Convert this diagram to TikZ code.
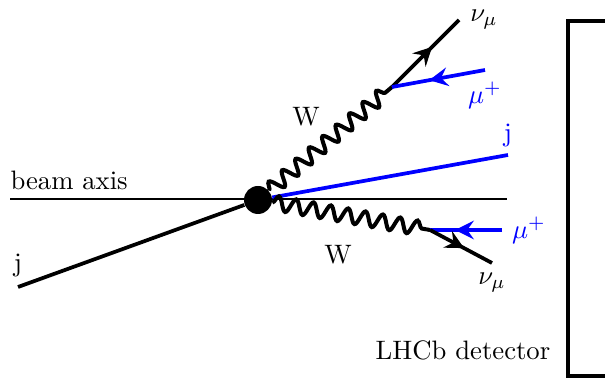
\documentclass[tikz,border=0pt]{standalone}
\usepackage{amsmath}
\usepackage{amssymb}
\usetikzlibrary{arrows.meta,decorations.pathmorphing,decorations.markings}

\begin{document}
\begin{tikzpicture}[x=0.375pt, y=-0.375pt, every node/.style={font=\normalsize}]
  \tikzstyle{fermion} = [line width=1.4pt, postaction={decorate},
                         decoration={markings, mark=at position #1 with {\arrow{Stealth[length=7pt,width=7pt,inset=2.5pt]}}}]
  \tikzstyle{boson} = [line width=1.5pt, decorate, decoration={snake, amplitude=2.7pt, segment length=6.6pt}]
  \tikzstyle{jet} = [line width=1.4pt]
  \tikzstyle{lbl} = [inner sep=0pt, font=\normalsize]
  \useasboundingbox (0,0) rectangle (605,379);
  \clip (0,0) rectangle (605,379);
  % beam axis
  \coordinate (ax1) at (10,199);
  \coordinate (ax2) at (507,199);
  \draw [line width=0.5pt] (ax1) -- (ax2);
  \node [anchor=base west, inner sep=0pt] (axis) at (10,190) {beam axis};
  % vertex and end points
  \node (v) [circle, fill=black, inner sep=0pt, minimum size=10.5pt] at (258,200) {};
  \coordinate (jl) at (18,287);
  \coordinate (jr) at (508,155);
  \coordinate (w1) at (392,87);
  \coordinate (w2) at (430,230);
  \coordinate (nu1) at (459,20);
  \coordinate (mu1) at (485,70);
  \coordinate (nu2) at (492,263);
  \coordinate (mu2) at (502,230);
  % jets
  \draw [jet] (v) -- (jl);
  \draw [jet, blue] (v) -- (jr);
  % W bosons
  \draw [boson] (v) -- (w1);
  \draw [boson] (v) -- (w2);
  % leptons
  \draw [fermion=0.6] (w1) -- (nu1);
  \draw [fermion=0.6, blue] (mu1) -- (w1);
  \draw [fermion=0.65, blue] (mu2) -- (w2);
  \draw [fermion=0.55] (w2) -- (nu2);
  % labels
  \node [anchor=base, inner sep=0pt] (jlab) at (18,272) {j};
  \node [anchor=base, inner sep=0pt, blue] (jrlab) at (508,142) {j};
  \node [anchor=base, inner sep=0pt] (wlab1) at (306,126) {W};
  \node [anchor=base, inner sep=0pt] (wlab2) at (338,264) {W};
  \node [lbl] (nulab1) at (484,20) {$\nu_\mu$};
  \node [lbl, blue] (mulab1) at (485,95) {$\mu^+$};
  \node [lbl, blue] (mulab2) at (529,230) {$\mu^+$};
  \node [lbl] (nulab2) at (492,283) {$\nu_\mu$};
  % detector
  \draw [line width=1.2pt] (640,21) -- (568,21) -- (568,376) -- (640,376);
  \node [anchor=base, inner sep=0pt] (det) at (463,360) {LHCb detector};
\end{tikzpicture}
\end{document}
